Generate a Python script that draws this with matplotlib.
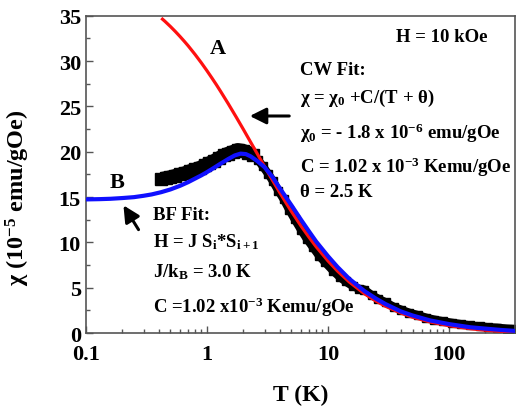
import matplotlib
matplotlib.use('Agg')
import matplotlib.pyplot as plt
from matplotlib.patches import FancyArrowPatch
from matplotlib.ticker import FixedLocator, LogLocator, NullFormatter, MultipleLocator

plt.rcParams['font.family'] = ['Liberation Serif', 'DejaVu Serif']
plt.rcParams['font.weight'] = 'bold'
plt.rcParams['mathtext.fontset'] = 'custom'
plt.rcParams['mathtext.rm'] = 'Liberation Serif:bold'
plt.rcParams['mathtext.it'] = 'Liberation Serif:bold'
plt.rcParams['mathtext.bf'] = 'Liberation Serif:bold'
plt.rcParams['mathtext.default'] = 'rm'

# measured data (black squares)
t_data = [0.42, 0.46, 0.5, 0.55, 0.6, 0.66, 0.72, 0.8, 0.88, 0.96, 1.05, 1.15,
          1.26, 1.38, 1.5, 1.65, 1.8, 2.0, 2.2, 2.4, 2.65, 2.9, 3.2, 3.5, 3.9,
          4.3, 4.8, 5.3, 6.0, 6.7, 7.5, 8.5, 9.5, 11, 12.5, 14, 16, 18, 20, 23,
          26, 30, 35, 40, 47, 55, 65, 75, 90, 105, 125, 150, 180, 210, 250, 300, 350]
chi_data = [17.0, 17.1, 17.2, 17.35, 17.5, 17.65, 17.85, 18.05, 18.25, 18.5, 18.75, 19.0,
            19.3, 19.6, 19.8, 20.0, 20.2, 20.1, 19.9, 19.6, 19.1, 18.4, 17.6, 16.8, 15.7,
            14.8, 13.6, 12.6, 11.4, 10.4, 9.5, 8.5, 7.8, 6.9, 6.2, 5.7, 5.2, 4.9, 4.8, 4.2,
            3.8, 3.4, 2.9, 2.6, 2.25, 2.0, 1.7, 1.5, 1.3, 1.15, 1.0, 0.85, 0.75, 0.65, 0.6, 0.5, 0.45]

# curve A: Curie-Weiss fit (red)
t_cw = [0.43, 0.45, 0.5, 0.55, 0.6, 0.65, 0.7, 0.75, 0.8, 0.9, 1.0, 1.1, 1.2, 1.3,
        1.5, 1.75, 2, 2.25, 2.5, 2.75, 3, 3.5, 4, 4.5, 5, 6, 7, 8, 10, 12, 15,
        20, 25, 30, 40, 50, 70, 100, 150, 200, 300, 350]
chi_cw = [34.63, 34.40, 33.82, 33.26, 32.72, 32.20, 31.70, 31.20, 30.73, 29.82, 28.96,
          28.15, 27.39, 26.66, 25.32, 23.82, 22.49, 21.29, 20.22, 19.25, 18.37, 16.82,
          15.51, 14.39, 13.42, 11.82, 10.56, 9.53, 7.98, 6.85, 5.65, 4.35, 3.53, 2.96,
          2.22, 1.76, 1.23, 0.82, 0.49, 0.32, 0.16, 0.11]

# curve B: Bonner-Fisher fit (blue)
t_bf = [0.1, 0.13, 0.16, 0.2, 0.25, 0.3, 0.35, 0.42, 0.5, 0.6, 0.7, 0.8, 0.9, 1.0,
        1.15, 1.3, 1.5, 1.7, 1.9, 2.1, 2.3, 2.6, 3.0, 3.5, 4, 5, 6, 7, 8, 10, 12, 15,
        20, 25, 30, 40, 50, 70, 100, 150, 200, 270, 350]
chi_bf = [14.75, 14.78, 14.82, 14.9, 15.0, 15.15, 15.3, 15.55, 15.85, 16.25, 16.65,
          17.05, 17.4, 17.75, 18.25, 18.7, 19.2, 19.6, 19.8, 19.75, 19.5, 19.0, 18.3,
          17.2, 16.0, 14.1, 12.5, 11.2, 10.1, 8.5, 7.3, 6.0, 4.65, 3.8, 3.2, 2.4, 1.95,
          1.4, 1.0, 0.65, 0.5, 0.35, 0.25]

fig = plt.figure(figsize=(5.2, 4.1), dpi=100)
ax = fig.add_axes([0.165, 0.185, 0.825, 0.774])

# data band: thicker around the maximum, thinner at high T
k = t_data.index(2.4)
ax.plot(t_data[:k + 1], chi_data[:k + 1], color='black', lw=10, marker='s', ms=9,
        solid_capstyle='butt', zorder=2)
ax.plot(t_data[k:], chi_data[k:], color='black', lw=6, marker='s', ms=6, zorder=2)
ax.plot(t_cw, chi_cw, color='#ff1010', lw=2.3, zorder=3)
ax.plot(t_bf, chi_bf, color='#1010ff', lw=3, zorder=4)

ax.set_xscale('log')
ax.set_xlim(0.1, 350)
ax.set_ylim(0, 35)
ax.xaxis.set_major_locator(FixedLocator([0.1, 1, 10, 100]))
ax.set_xticklabels(['0.1', '1', '10', '100'])
ax.xaxis.set_minor_locator(LogLocator(base=10, subs=range(2, 10)))
ax.xaxis.set_minor_formatter(NullFormatter())
ax.yaxis.set_major_locator(MultipleLocator(5))
ax.yaxis.set_minor_locator(MultipleLocator(2.5))

for s in ax.spines.values():
    s.set_color('#555555')
    s.set_linewidth(1.2)
ax.tick_params(which='both', direction='in', color='#555555', labelsize=16,
               top=False, right=False)
ax.tick_params(which='major', length=5, width=1)
ax.tick_params(which='minor', length=3, width=1)
ax.tick_params(axis='x', pad=8)

ax.set_xlabel('T (K)', fontsize=17, fontweight='bold', labelpad=14)
ax.set_ylabel(r'χ (10$^{-5}$ emu/gOe)', fontsize=17.5, fontweight='bold')
ax.yaxis.set_label_coords(-0.126, 0.43)

fs = 13.5
ax.text(1.23, 31.5, 'A', fontsize=16, ha='center', va='center')
ax.text(0.18, 16.7, 'B', fontsize=16, ha='center', va='center')

tx = fig.transFigure
def ftext(x, y, s):
    fig.text(x / 520, 1 - y / 410, s, fontsize=fs, ha='left', va='center')

ftext(396, 38, 'H = 10 kOe')
ftext(300, 71, 'CW Fit:')
ftext(300, 98, r'χ = χ$_0$ +C/(T + θ)')
ftext(300, 133, r'χ$_0$ = - 1.8 x 10$^{-6}$ emu/gOe')
ftext(300, 167, r'C = 1.02 x 10$^{-3}$ Kemu/gOe')
ftext(300, 193, 'θ = 2.5 K')
ftext(153, 216, 'BF Fit:')
ftext(153, 242, r'H = J S$_{\rm i}$*S$_{\rm i+1}$')
ftext(153, 272, r'J/k$_{\rm B}$ = 3.0 K')
ftext(153, 307, r'C =1.02 x10$^{-3}$ Kemu/gOe')

arrow = dict(arrowstyle='-|>,head_length=0.7,head_width=0.35', color='black',
             lw=2.2, mutation_scale=14)
fig.add_artist(FancyArrowPatch((292 / 520, 1 - 117 / 410), (247 / 520, 1 - 117 / 410),
                               transform=tx, **arrow))
fig.add_artist(FancyArrowPatch((140 / 520, 1 - 233 / 410), (122 / 520, 1 - 204 / 410),
                               transform=tx, **arrow))

fig.savefig('out.png', dpi=100)
